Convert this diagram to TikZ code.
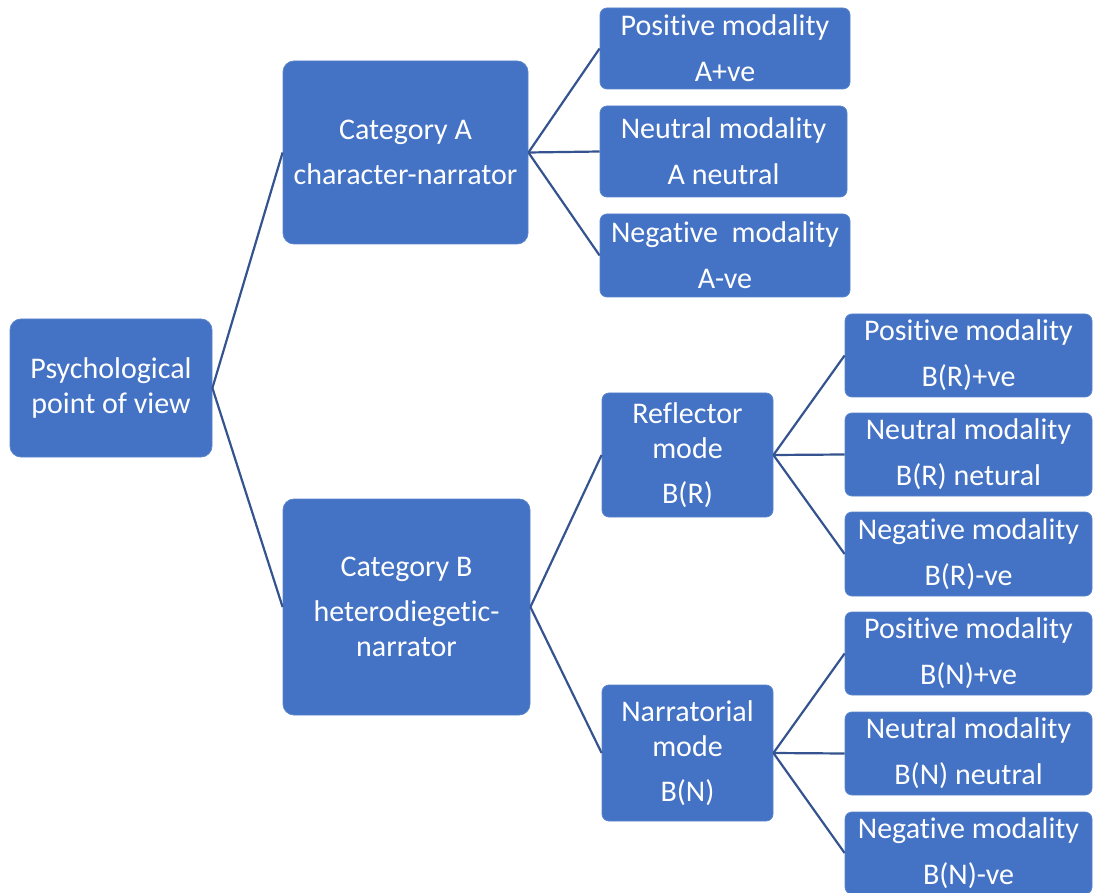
\documentclass[tikz,border=0pt]{standalone}
\usepackage{fontspec}
\setmainfont{Carlito}[Ligatures={NoCommon}]
\definecolor{boxblue}{HTML}{4472C4}
\definecolor{boxedge}{HTML}{5A84CC}
\definecolor{linkblue}{HTML}{35548F}
\tikzset{
  box/.style={draw=boxedge, fill=boxblue, text=white, rounded corners=11pt,
    align=center, inner sep=0pt, line width=0.8pt,
    font=\fontsize{30}{35}\selectfont},
  smallbox/.style={box, rounded corners=7pt},
  link/.style={draw=linkblue, line width=2.2pt}
}
\begin{document}
\begin{tikzpicture}[x=1pt,y=-1pt]
\useasboundingbox (0,0) rectangle (1093,893);
% level 0
\node[box, minimum width=202pt, minimum height=138pt] (root) at (111,388) {Psychological\\point of view};
% level 1
\node[box, minimum width=245pt, minimum height=183pt] (catA) at (405.5,152.5) {Category A\\[10pt]character-narrator};
\node[box, minimum width=247pt, minimum height=216pt] (catB) at (406.5,607) {Category B\\[10pt]heterodiegetic-\\narrator};
% A children
\node[smallbox, minimum width=250pt, minimum height=81pt] (Apos) at (725,48.5) {Positive modality\\[11pt]A+ve};
\node[smallbox, minimum width=247pt, minimum height=91pt] (Aneu) at (723.5,151.5) {Neutral modality\\[11pt]A neutral};
\node[smallbox, minimum width=250pt, minimum height=83pt] (Aneg) at (725,255.5) {Negative~~modality\\[11pt]A-ve};
% B children
\node[smallbox, minimum width=171pt, minimum height=124pt] (refl) at (687.5,455) {Reflector\\mode\\[10pt]B(R)};
\node[smallbox, minimum width=171pt, minimum height=136pt] (narr) at (687.5,753) {Narratorial\\mode\\[10pt]B(N)};
% B(R) children
\node[smallbox, minimum width=247pt, minimum height=83pt] (BRpos) at (968.5,355.5) {Positive modality\\[11pt]B(R)+ve};
\node[smallbox, minimum width=247pt, minimum height=83pt] (BRneu) at (968.5,454.5) {Neutral modality\\[11pt]B(R) netural};
\node[smallbox, minimum width=247pt, minimum height=84pt] (BRneg) at (968.5,554) {Negative modality\\[11pt]B(R)-ve};
% B(N) children
\node[smallbox, minimum width=247pt, minimum height=83pt] (BNpos) at (968.5,653.5) {Positive modality\\[11pt]B(N)+ve};
\node[smallbox, minimum width=247pt, minimum height=83pt] (BNneu) at (968.5,753.5) {Neutral modality\\[11pt]B(N) neutral};
\node[smallbox, minimum width=247pt, minimum height=82pt] (BNneg) at (968.5,853) {Negative modality\\[11pt]B(N)-ve};
% connectors
\draw[link] (root.east) -- (catA.west);
\draw[link] (root.east) -- (catB.west);
\draw[link] (catA.east) -- (Apos.west);
\draw[link] (catA.east) -- (Aneu.west);
\draw[link] (catA.east) -- (Aneg.west);
\draw[link] (catB.east) -- (refl.west);
\draw[link] (catB.east) -- (narr.west);
\draw[link] (refl.east) -- (BRpos.west);
\draw[link] (refl.east) -- (BRneu.west);
\draw[link] (refl.east) -- (BRneg.west);
\draw[link] (narr.east) -- (BNpos.west);
\draw[link] (narr.east) -- (BNneu.west);
\draw[link] (narr.east) -- (BNneg.west);
\end{tikzpicture}
\end{document}
